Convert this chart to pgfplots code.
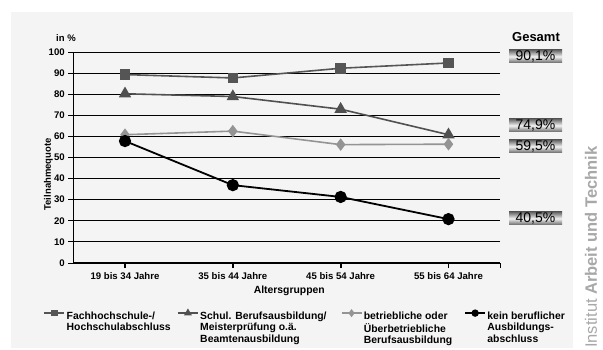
\documentclass[border=0pt]{standalone}
\usepackage{pgfplots}
\pgfplotsset{compat=1.18}
\usepackage{fontspec}
\setmainfont{Liberation Sans}
\definecolor{bg}{HTML}{F4F4F4}
\definecolor{sq}{HTML}{555555}
\definecolor{tri}{HTML}{505050}
\definecolor{dia}{HTML}{949494}
\definecolor{iat}{HTML}{A8A8A8}
\newcommand{\lf}{\bfseries\fontsize{9.5}{12}\selectfont}
\newcommand{\legf}{\bfseries\fontsize{10.4}{11.2}\selectfont}
\newcommand{\ent}[2]{\makebox[#1][l]{\hspace{1.5pt}\begin{tabular}[t]{@{}l@{}}#2\end{tabular}}}
\begin{document}
\begin{tikzpicture}[x=1pt,y=1pt]
\path[use as bounding box] (0,0) rectangle (603,350);
\fill[white] (0,0) rectangle (603,350);
\fill[bg] (11,2) rectangle (573,338);
\begin{axis}[
  at={(125pt,87pt)}, anchor=origin,
  scale only axis, width=427pt, height=211pt,
  xmin=-0.48, xmax=3.48, ymin=0, ymax=100,
  axis x line=bottom, axis y line=left,
  axis line style={-, black, line width=1pt},
  xtick={0,1,2,3},
  xticklabels={19 bis 34 Jahre,35 bis 44 Jahre,45 bis 54 Jahre,55 bis 64 Jahre},
  xticklabel style={yshift=-1.5pt},
  extra x ticks={3.48}, extra x tick labels={},
  extra x tick style={xtick style={line width=0.8pt}},
  ytick={0,10,...,100},
  ymajorgrids, grid style={black, line width=0.8pt},
  tick align=outside, major tick length=5pt,
  xtick style={black, line width=1.8pt},
  ytick style={black, line width=0.8pt},
  tick label style={font=\bfseries\fontsize{9.6}{11}\selectfont},
  /pgf/number format/assume math mode=true,
  ylabel={Teilnahmequote},
  ylabel style={font=\lf, at={(axis description cs:-0.058,0.42)}, anchor=center},
  xlabel={Altersgruppen},
  xlabel style={font=\bfseries\fontsize{10.4}{12}\selectfont, at={(axis description cs:0.506,-0.132)}, anchor=center},
  legend style={at={(axis description cs:-0.070,-0.222)}, anchor=north west,
    draw=none, fill=none, inner sep=0pt, column sep=0pt,
    font=\legf, legend columns=4, nodes={inner sep=0pt}},
  legend cell align=left,
  legend image code/.code={\draw[#1,mark repeat=2,mark phase=2,line width=1.6pt,every mark/.append style={scale=0.55}] plot coordinates {(0pt,3.5pt)(10pt,3.5pt)(20pt,3.5pt)};},
]
\addplot[sq, line width=1.6pt, mark=square*, mark size=4.5pt]
  coordinates {(0,89.3) (1,87.7) (2,92.3) (3,94.8)};
\addlegendentry{\ent{112pt}{Fachhochschule-/\\Hochschulabschluss}}
\addplot[tri, line width=1.6pt, mark=triangle*, mark size=5.6pt]
  coordinates {(0,80.2) (1,78.9) (2,72.9) (3,60.8)};
\addlegendentry{\ent{142pt}{Schul. Berufsausbildung/\\Meisterprüfung o.ä.\\Beamtenausbildung}}
\addplot[dia, line width=1.6pt, mark=diamond*, mark size=5pt]
  coordinates {(0,60.8) (1,62.5) (2,56.1) (3,56.3)};
\addlegendentry{\ent{102pt}{betriebliche oder\\Überbetriebliche\\Berufsausbildung}}
\addplot[black, line width=1.8pt, mark=*, mark size=5.2pt]
  coordinates {(0,57.8) (1,36.9) (2,31.3) (3,20.8)};
\addlegendentry{\ent{90pt}{kein beruflicher\\Ausbildungs-\\abschluss}}
\end{axis}
\node[font=\lf] at (66,312) {in \%};
\node[font=\bfseries\fontsize{13}{15}\selectfont] at (536,313) {Gesamt};
\foreach \yy/\lab in {293.5/{90,1\%},224.5/{74,9\%},203.5/{59,5\%},131.5/{40,5\%}}{
  \shade[top color=black!60, bottom color=black!60, middle color=white!95!black] (509,\yy-6.5) rectangle (562,\yy+6.5);
  \node[font=\fontsize{14}{16}\selectfont] at (535.5,\yy) {\lab};
}
\node[rotate=90, anchor=west, text=iat, font=\fontsize{16.5}{18}\selectfont, inner sep=0pt] at (591,2) {Institut \textbf{Arbeit und Technik}};
\end{tikzpicture}
\end{document}
